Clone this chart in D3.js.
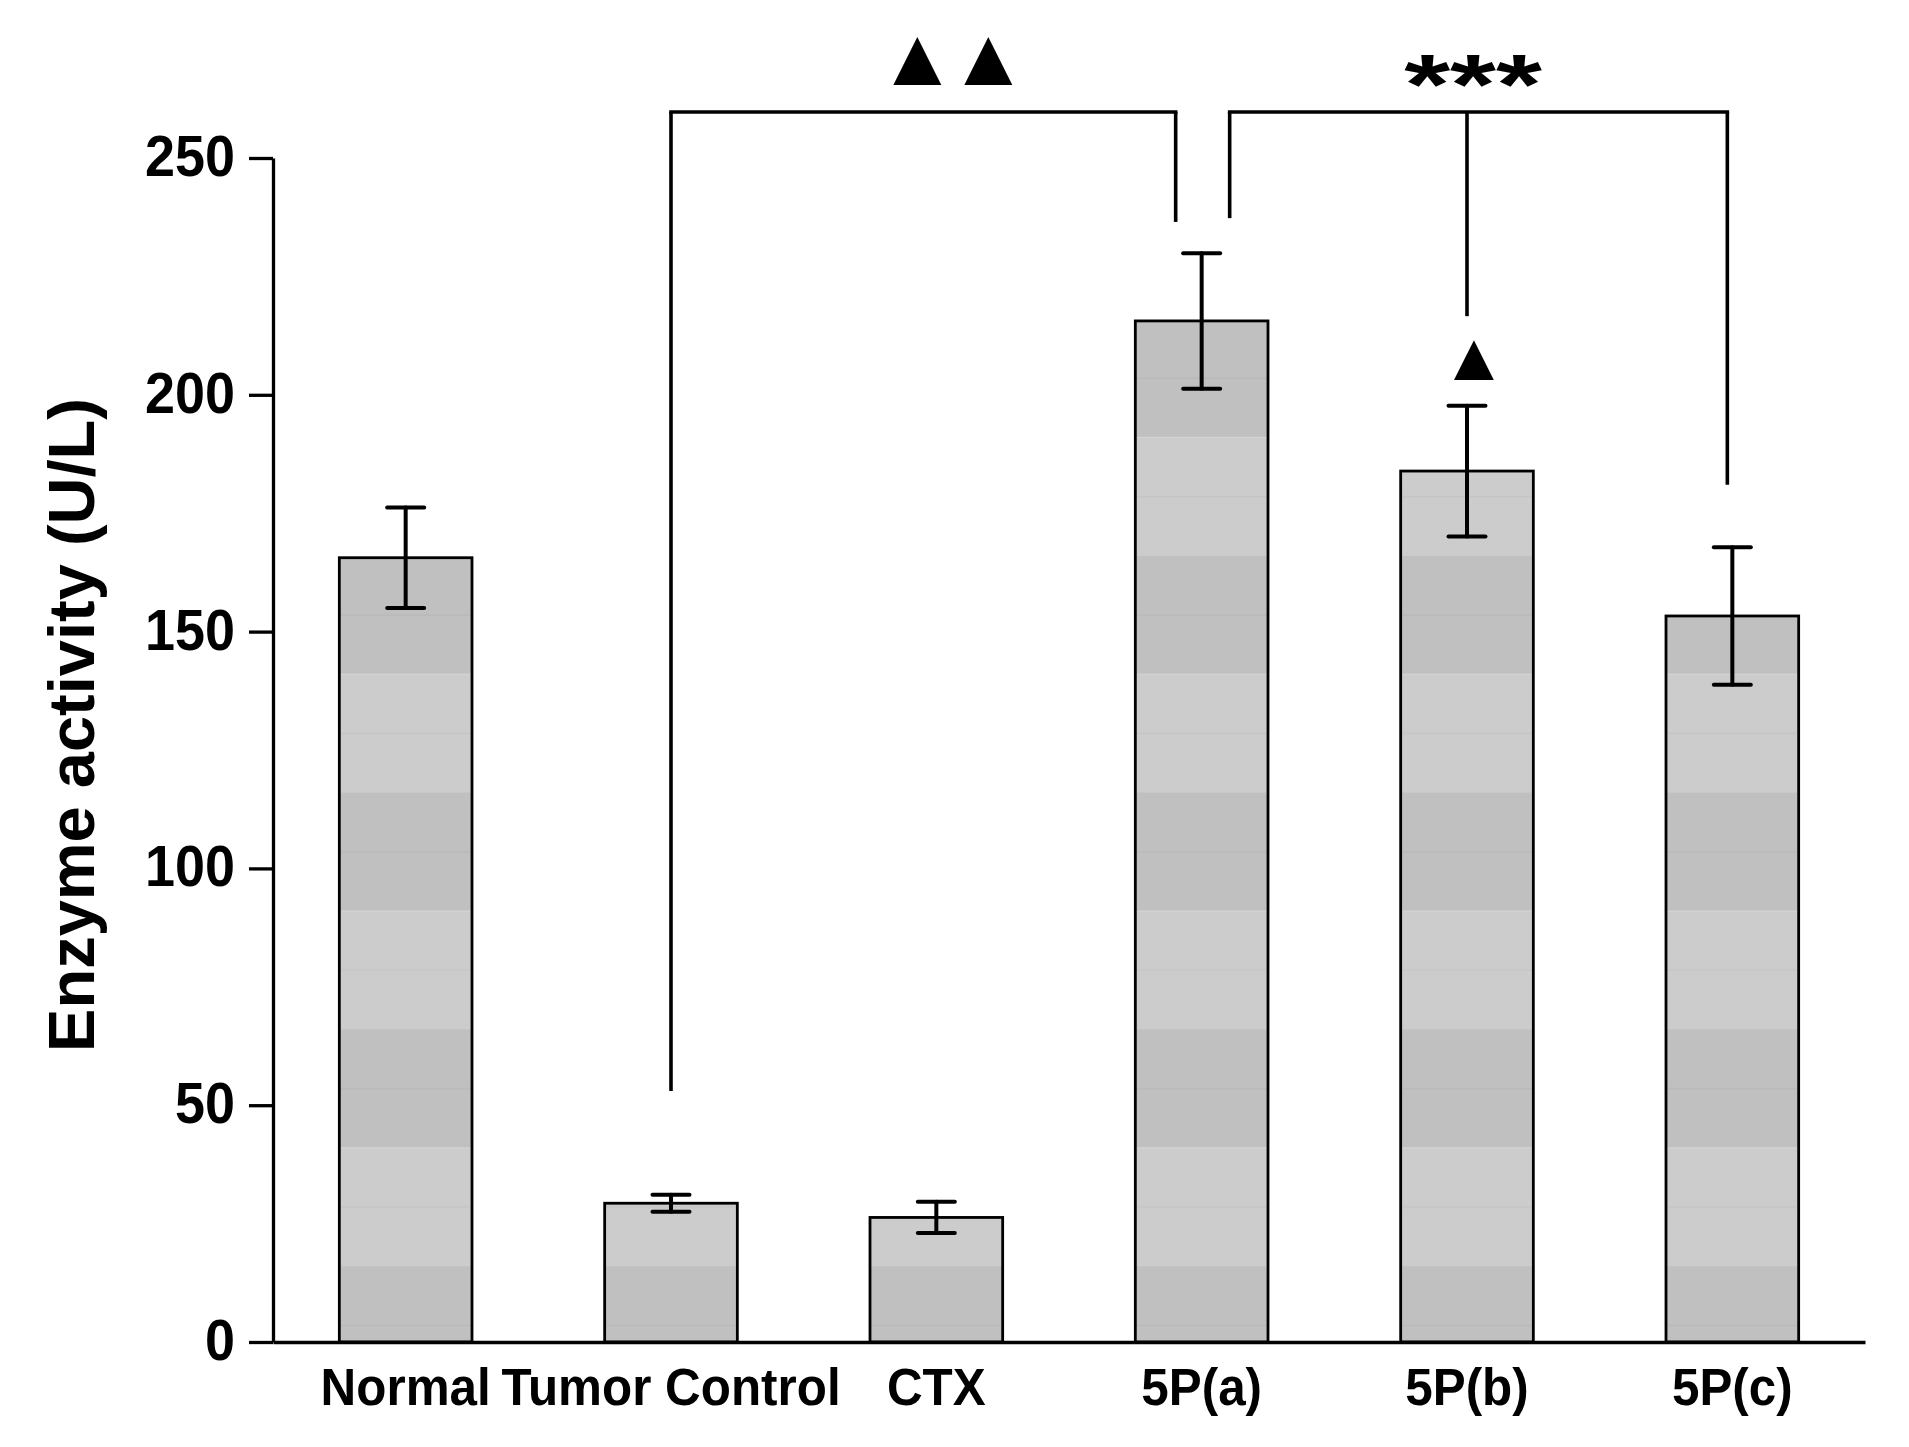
<!DOCTYPE html>
<html>
<head>
<meta charset="utf-8">
<script src="https://cdn.jsdelivr.net/npm/d3@7"></script>
<style>
  body { margin: 0; background: #fff; }
  svg { display: block; }
  text { font-family: "Liberation Sans", Arial, sans-serif; font-weight: bold; fill: #000; }
</style>
</head>
<body>
<div id="chart"></div>
<script>
// data
var categories = ["Normal", "Tumor Control", "CTX", "5P(a)", "5P(b)", "5P(c)"];
var means = [165.6, 29.3, 26.3, 215.6, 183.9, 153.3];
var errors = [10.6, 1.8, 3.3, 14.3, 13.8, 14.5];
var yTicks = [0, 50, 100, 150, 200, 250];
var yTitle = "Enzyme activity (U/L)";

// significance brackets: [category, pixel offset, value where the leg ends]
var leftLegs = [["Tumor Control", 0, 53], ["5P(a)", -26, 236.5]];
var rightLegs = [["5P(a)", 28, 237.3], ["5P(b)", 0, 216.6], ["5P(c)", -5, 181]];
var bracketValue = 259.7;

var width = 1909, height = 1447;

var svg = d3.select("#chart")
  .append("svg")
  .attr("width", width)
  .attr("height", height);

var x = d3.scaleBand()
  .domain(categories)
  .range([273, 1865])
  .paddingInner(0.5)
  .paddingOuter(0.25);

var y = d3.scaleLinear()
  .domain([0, 250])
  .range([1342, 158]);

// striped fill, bands in page space like the original
var period = y(0) - y(50);
var defs = svg.append("defs");
var pat = defs.append("pattern")
  .attr("id", "stripes")
  .attr("patternUnits", "userSpaceOnUse")
  .attr("x", 0)
  .attr("y", y(66))
  .attr("width", 20)
  .attr("height", period);
pat.append("rect").attr("width", 20).attr("height", period / 2).attr("fill", "#c0c0c0");
pat.append("rect").attr("y", period / 2).attr("width", 20).attr("height", period / 2).attr("fill", "#cccccc");
pat.append("rect").attr("y", period / 4 - 0.5).attr("width", 20).attr("height", 1).attr("fill", "#b6b6b6");
pat.append("rect").attr("y", period * 3 / 4 - 0.5).attr("width", 20).attr("height", 1).attr("fill", "#c2c2c2");

var data = categories.map(function(c, i) {
  return {name: c, mean: means[i], err: errors[i]};
});

// bars
svg.append("g")
  .selectAll("rect")
  .data(data)
  .join("rect")
  .attr("x", function(d) { return x(d.name); })
  .attr("y", function(d) { return y(d.mean); })
  .attr("width", x.bandwidth())
  .attr("height", function(d) { return y(0) - y(d.mean); })
  .attr("fill", "url(#stripes)")
  .attr("stroke", "#000")
  .attr("stroke-width", 2.8);

// error bars
var cap = 18.5;
var eb = svg.append("g")
  .attr("stroke", "#000")
  .attr("stroke-width", 4)
  .attr("stroke-linecap", "round");
var cx = function(d) { return x(d.name) + x.bandwidth() / 2; };
eb.selectAll("line.v").data(data).join("line").attr("class", "v")
  .attr("x1", cx).attr("x2", cx)
  .attr("y1", function(d) { return y(d.mean + d.err); })
  .attr("y2", function(d) { return y(d.mean - d.err); });
eb.selectAll("line.t").data(data).join("line").attr("class", "t")
  .attr("x1", function(d) { return cx(d) - cap; })
  .attr("x2", function(d) { return cx(d) + cap; })
  .attr("y1", function(d) { return y(d.mean + d.err); })
  .attr("y2", function(d) { return y(d.mean + d.err); });
eb.selectAll("line.b").data(data).join("line").attr("class", "b")
  .attr("x1", function(d) { return cx(d) - cap; })
  .attr("x2", function(d) { return cx(d) + cap; })
  .attr("y1", function(d) { return y(d.mean - d.err); })
  .attr("y2", function(d) { return y(d.mean - d.err); });

// y axis
var yAxis = svg.append("g")
  .attr("transform", "translate(" + x.range()[0] + ",0)")
  .call(d3.axisLeft(y).tickValues(yTicks).tickSize(24).tickSizeOuter(0).tickPadding(14));
yAxis.select(".domain").attr("stroke-width", 3.3);
yAxis.selectAll(".tick line").attr("stroke-width", 3.3);
yAxis.selectAll(".tick text")
  .attr("font-size", 58)
  .attr("x", -38 / 0.93)
  .attr("dy", "0.3em")
  .attr("transform", "scale(0.93,1)");

// x axis
var xAxis = svg.append("g")
  .attr("transform", "translate(0," + y(0) + ")")
  .call(d3.axisBottom(x).tickSize(0).tickSizeOuter(0));
xAxis.select(".domain").attr("stroke-width", 3.3);
xAxis.selectAll(".tick text")
  .attr("font-size", 52)
  .attr("y", 63)
  .attr("dy", 0)
  .attr("transform", "scale(0.95,1)")
  .attr("x", 0);

// y title
svg.append("text")
  .attr("transform", "translate(94," + 725 + ") rotate(-90)")
  .attr("text-anchor", "middle")
  .attr("font-size", 65)
  .text(yTitle);

// brackets
function legX(l) { return x(l[0]) + x.bandwidth() / 2 + l[1]; }
var br = svg.append("g").attr("fill", "none").attr("stroke", "#000").attr("stroke-width", 3.6);
[leftLegs, rightLegs].forEach(function(legs) {
  br.append("line")
    .attr("x1", legX(legs[0]) - 1.8).attr("x2", legX(legs[legs.length - 1]) + 1.8)
    .attr("y1", y(bracketValue)).attr("y2", y(bracketValue));
  legs.forEach(function(l) {
    br.append("line")
      .attr("x1", legX(l)).attr("x2", legX(l))
      .attr("y1", y(bracketValue)).attr("y2", y(l[2]));
  });
});

// significance marks
var mid = function(c) { return x(c) + x.bandwidth() / 2; };
var leftMid = (legX(leftLegs[0]) + legX(leftLegs[1])) / 2 + 27;
svg.append("text")
  .attr("x", leftMid - 2.5)
  .attr("y", 85)
  .attr("text-anchor", "middle")
  .attr("font-family", "DejaVu Sans")
  .attr("font-size", 82)
  .attr("letter-spacing", -10)
  .text("▲▲");
svg.append("text")
  .attr("transform", "translate(" + (mid("5P(b)") + 6) + ",114) scale(1,0.73)")
  .attr("text-anchor", "middle")
  .attr("font-size", 118)
  .text("***");
svg.append("text")
  .attr("x", mid("5P(b)") + 7)
  .attr("y", 380)
  .attr("text-anchor", "middle")
  .attr("font-family", "DejaVu Sans")
  .attr("font-size", 68)
  .text("▲");
</script>
</body>
</html>
